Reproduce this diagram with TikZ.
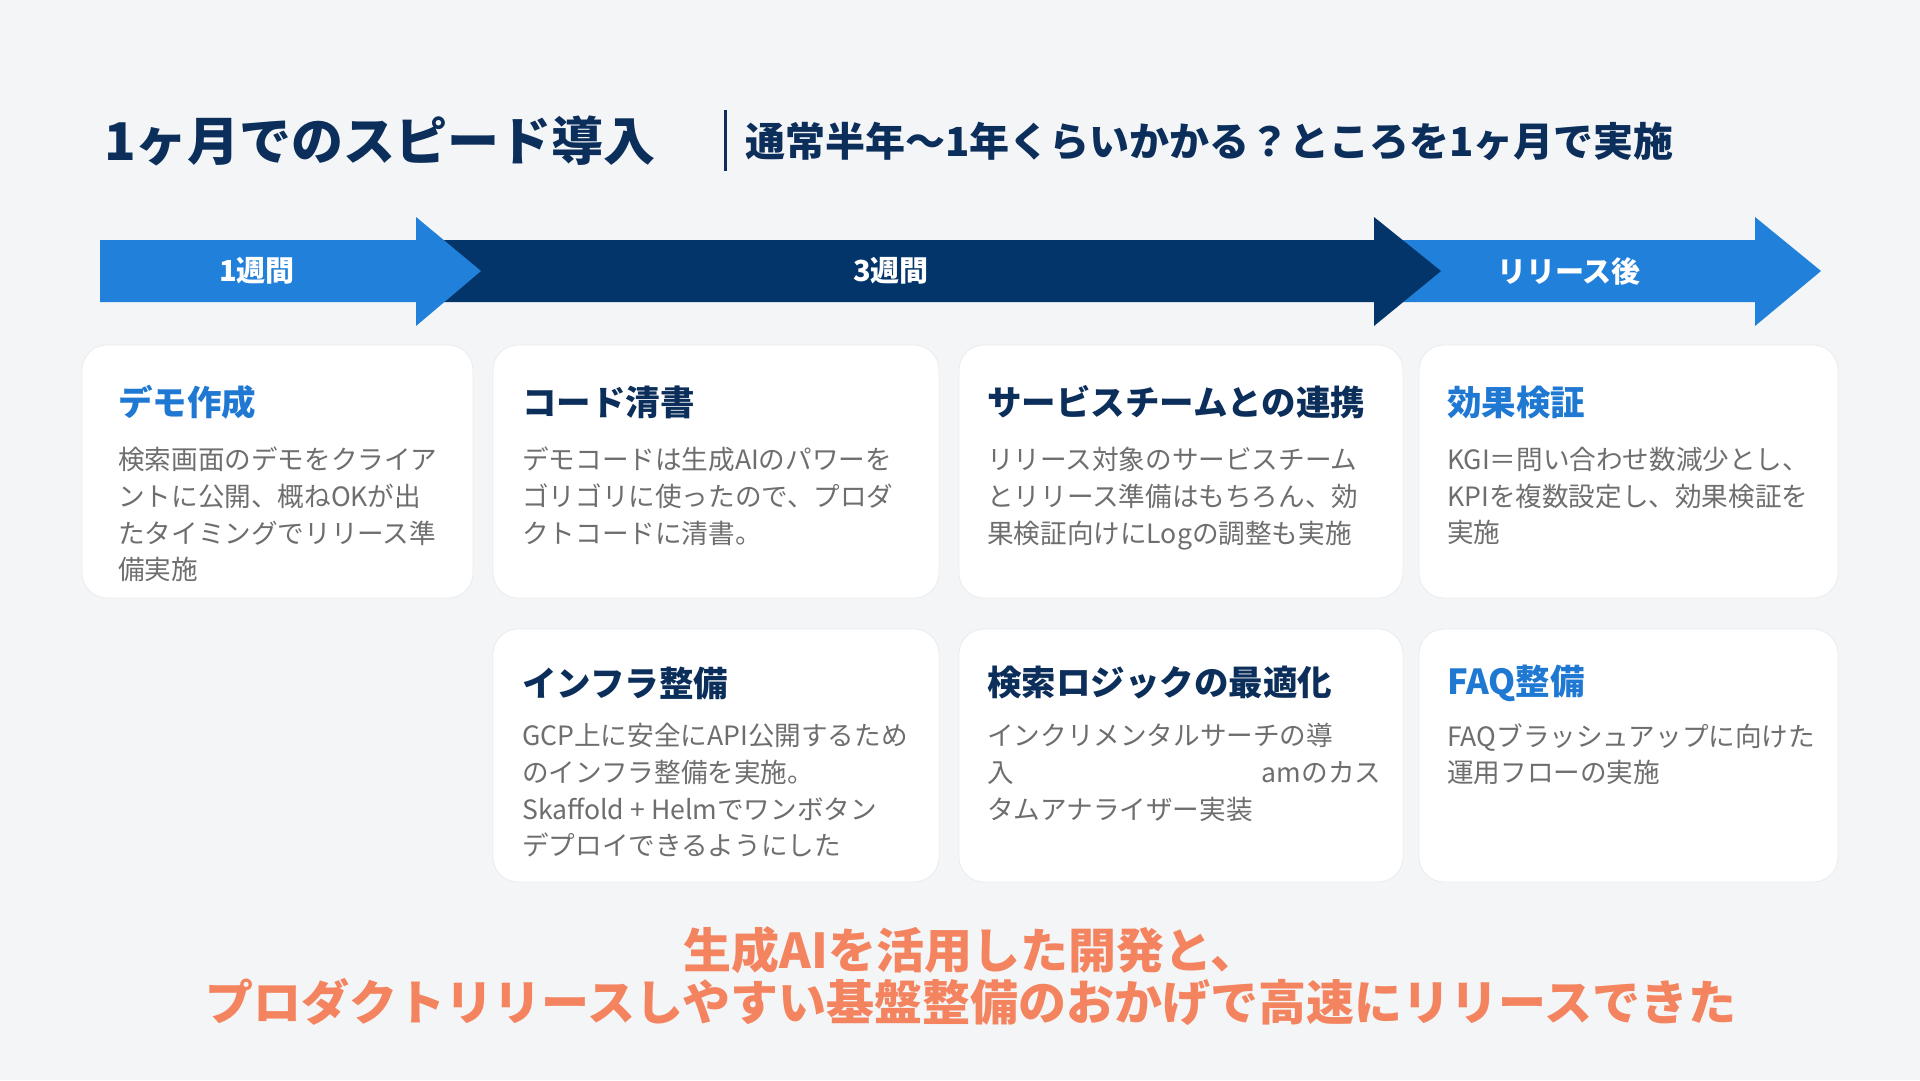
\documentclass[tikz,border=0pt]{standalone}
\usepackage{fontspec}
\setmainfont{Noto Sans CJK JP}
\usetikzlibrary{calc,positioning}

\definecolor{bgcol}{HTML}{F3F5F7}
\definecolor{navy}{HTML}{0C2E5A}
\definecolor{arrownavy}{HTML}{03356A}
\definecolor{arrowblue}{HTML}{2180DA}
\definecolor{accent}{HTML}{1F78D2}
\definecolor{bodygray}{HTML}{6E6E6E}
\definecolor{cardline}{HTML}{E9ECEF}
\definecolor{salmon}{HTML}{F4845F}

\begin{document}
\begin{tikzpicture}[x=1pt,y=-1pt,
  card/.style={fill=white,draw=cardline,line width=0.8pt,rounded corners=25pt,
    minimum height=253pt,inner sep=0pt},
  cardtitle/.style={anchor=west,inner sep=0pt,text=navy,
    font=\fontsize{34.5}{40}\selectfont\bfseries},
  cardbody/.style={anchor=north west,inner sep=0pt,align=left,text=bodygray,
    font=\fontsize{26.6}{36.7}\selectfont},
  phaselabel/.style={text=white,inner sep=0pt,font=\fontsize{29}{32}\selectfont\bfseries}
]
  % background
  \fill[bgcol] (0,0) rectangle (1920,1080);

  % heading
  \node[anchor=west,inner sep=0pt,text=navy,font=\fontsize{52}{58}\selectfont\bfseries]
    (title) at (104,141) {1ヶ月でのスピード導入};
  \draw[navy,line width=3pt] (725,110) -- (725,171);
  \node[anchor=west,inner sep=0pt,text=navy,font=\fontsize{40}{44}\selectfont\bfseries]
    (subtitle) at (745,141) {通常半年〜1年くらいかかる？ところを1ヶ月で実施};

  % phase arrows
  \fill[arrowblue] (1380,240) -- (1755,240) -- (1755,217) -- (1821,271)
    -- (1755,326) -- (1755,302) -- (1380,302) -- cycle;
  \fill[arrownavy] (420,240) -- (1374,240) -- (1374,217) -- (1441,271)
    -- (1374,326) -- (1374,302) -- (420,302) -- cycle;
  \fill[arrowblue] (100,240) -- (416,240) -- (416,217) -- (481,271)
    -- (416,326) -- (416,302) -- (100,302) -- cycle;
  \node[phaselabel] (w1) at (257,271) {1週間};
  \node[phaselabel] (w3) at (891,271) {3週間};
  \node[phaselabel] (after) at (1569,271) {リリース後};

  % cards, first row
  \node[card,minimum width=391pt] (demo) at (277.5,471.5) {};
  \node[card,minimum width=446pt] (code) at (716,471.5) {};
  \node[card,minimum width=444pt] (team) at (1181,471.5) {};
  \node[card,minimum width=419pt] (effect) at (1628.5,471.5) {};
  % cards, second row
  \node[card,minimum width=446pt] (infra) at (716,755.5) {};
  \node[card,minimum width=444pt] (logic) at (1181,755.5) {};
  \node[card,minimum width=419pt] (faq) at (1628.5,755.5) {};

  \node[cardtitle,text=accent] (demot) at (118,402) {デモ作成};
  \node[cardbody] (demob) at (118,447) {検索画面のデモをクライア\\ントに公開、概ねOKが出\\たタイミングでリリース準\\備実施};

  \node[cardtitle] (codet) at (522,402) {コード清書};
  \node[cardbody] (codeb) at (522,447) {デモコードは生成AIのパワーを\\ゴリゴリに使ったので、プロダ\\クトコードに清書。};

  \node[cardtitle] (teamt) at (987,402) {サービスチームとの連携};
  \node[cardbody] (teamb) at (987,447) {リリース対象のサービスチーム\\とリリース準備はもちろん、効\\果検証向けにLogの調整も実施};

  \node[cardtitle,text=accent] (effectt) at (1447,402) {効果検証};
  \node[cardbody] (effectb) at (1447,447) {KGI＝問い合わせ数減少とし、\\KPIを複数設定し、効果検証を\\実施};

  \node[cardtitle] (infrat) at (522,683) {インフラ整備};
  \node[cardbody] (infrab) at (522,723) {GCP上に安全にAPI公開するため\\のインフラ整備を実施。\\Skaffold + Helmでワンボタン\\デプロイできるようにした};

  \node[cardtitle] (logict) at (987,683) {検索ロジックの最適化};
  \node[cardbody] (logicb) at (987,723) {インクリメンタルサーチの導\\入\hspace*{248pt}amのカス\\タムアナライザー実装};

  \node[cardtitle,text=accent] (faqt) at (1447,683) {FAQ整備};
  \node[cardbody] (faqb) at (1447,723) {FAQブラッシュアップに向けた\\運用フローの実施};

  % summary
  \node[align=center,inner sep=0pt,text=salmon,font=\fontsize{48}{52}\selectfont\bfseries]
    (summary) at (971,976) {生成AIを活用した開発と、\\プロダクトリリースしやすい基盤整備のおかげで高速にリリースできた};
\end{tikzpicture}
\end{document}
